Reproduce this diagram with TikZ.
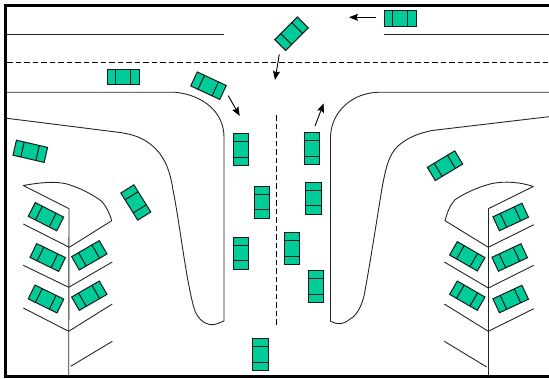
\documentclass[tikz,border=0pt]{standalone}
\usetikzlibrary{arrows.meta}
\definecolor{carfill}{HTML}{00CC99}
\tikzset{
  x=1pt,y=-1pt,
  kerb/.style={line width=0.9pt,black!85,line join=round},
  centreline/.style={line width=1.1pt,black,dash pattern=on 5.5pt off 3pt},
  motion/.style={line width=0.9pt,black,-{Stealth[length=9pt,width=7pt,inset=1.5pt]}},
  carbody/.style={draw=black!90,line width=1pt,fill=carfill},
  cardiv/.style={draw=black!90,line width=1pt},
}
\newcommand{\mycar}[3]{%
  \begin{scope}[shift={(#1,#2)},rotate=-#3]
    \path[carbody] (-16,-7.7) rectangle (16,7.7);
    \path[cardiv] (-8,-7.7) -- (-8,7.7) (7.5,-7.7) -- (7.5,7.7);
  \end{scope}}
\begin{document}
\begin{tikzpicture}
\useasboundingbox (0,0) rectangle (549,378);
% road edges
\draw[kerb] (7,34) -- (224,34);
\draw[kerb] (384,34) -- (549,34);
\draw[centreline] (7,62.5) -- (549,62.5);
\draw[centreline] (276.7,115) -- (276.7,326);
\draw[kerb] (7,92.2) -- (175,92.2) .. controls (203,95) and (224,112) .. (224,137) -- (224,321)
  .. controls (219,323) and (215,325) .. (211,324.7)
  .. controls (203,323.5) and (197,318) .. (194,308)
  .. controls (186,280) and (180,225) .. (173,190)
  .. controls (170,170) and (164,153) .. (147,141.7)
  .. controls (138,136) and (130,134) .. (120,132.5) -- (7,118.3);
\draw[kerb] (549,116.7) -- (432,130.5)
  .. controls (420,133) and (408,137) .. (398,146)
  .. controls (388,155) and (385,172) .. (381.7,190)
  .. controls (376,225) and (369,270) .. (364,296)
  .. controls (361,308) and (356,316) .. (350,319)
  .. controls (343,325) and (337,325) .. (330.5,321) -- (330.5,137)
  .. controls (331,112) and (352,92.2) .. (380,92.2) -- (549,92.2);
% left parking
\draw[kerb] (69,208.7) -- (68.7,375);
\draw[kerb] (69,208.7) -- (23.3,185.5)
  .. controls (40,182.5) and (55,181) .. (67,184)
  .. controls (80,188) and (92,194) .. (101.7,201.3)
  .. controls (106,206) and (110,214) .. (111.7,220.7) -- (69.3,247.3);
\draw[kerb] (23.3,224) -- (69.3,247.3);
\draw[kerb] (23.3,265.3) -- (68.7,287.3) -- (112.3,262);
\draw[kerb] (23.3,308) -- (68.7,331.3) -- (112.3,304);
\draw[kerb] (70.7,366.3) -- (112.3,341.3);
% right parking
\draw[kerb] (488.3,208.7) -- (488.3,375);
\draw[kerb] (488.3,208.7) -- (533.3,186.5)
  .. controls (520,182) and (505,181) .. (492,183.5)
  .. controls (478,187) and (465,193) .. (455,199.7)
  .. controls (450,205) and (447,213) .. (445,220.7) -- (488.3,247.3);
\draw[kerb] (533.7,224.7) -- (488.3,247.3);
\draw[kerb] (533.7,265.3) -- (488.3,288) -- (444.3,262);
\draw[kerb] (533.7,308.7) -- (488.3,331.3) -- (444.3,304);
\draw[kerb] (444.3,341.3) -- (486.7,367);
% cars
\mycar{400}{18.5}{0}
\mycar{291.5}{33.7}{135}
\mycar{123.2}{76.8}{0}
\mycar{208.5}{85.7}{25}
\mycar{241}{149.5}{90}
\mycar{30.3}{151.3}{13}
\mycar{445}{165.7}{-31}
\mycar{311.7}{148.8}{90}
\mycar{261.7}{202}{90}
\mycar{313.3}{198}{90}
\mycar{241}{253}{90}
\mycar{291.8}{248.7}{90}
\mycar{315.7}{286.7}{90}
\mycar{260.3}{354.7}{90}
\mycar{135.8}{202.5}{58}
\mycar{46}{216.7}{27}
\mycar{47.7}{257.5}{26}
\mycar{46}{299}{26}
\mycar{89.3}{255.3}{-30}
\mycar{89.3}{295.7}{-30}
\mycar{510.7}{217}{-25}
\mycar{509.7}{257.5}{-25}
\mycar{510.7}{299}{-25}
\mycar{467.3}{256.3}{30}
\mycar{467.3}{295.7}{30}
% motion arrows
\draw[motion] (228.3,95.7) -- (239.7,116);
\draw[motion] (279.3,54.3) -- (275,80);
\draw[motion] (376,17.3) -- (349,17.3);
\draw[motion] (315,126) -- (323.7,103.3);
% frame
\draw[black,line width=3pt,line cap=rect] (549,5.5) -- (5.5,5.5) -- (5.5,376.5) -- (549,376.5);
\end{tikzpicture}
\end{document}
